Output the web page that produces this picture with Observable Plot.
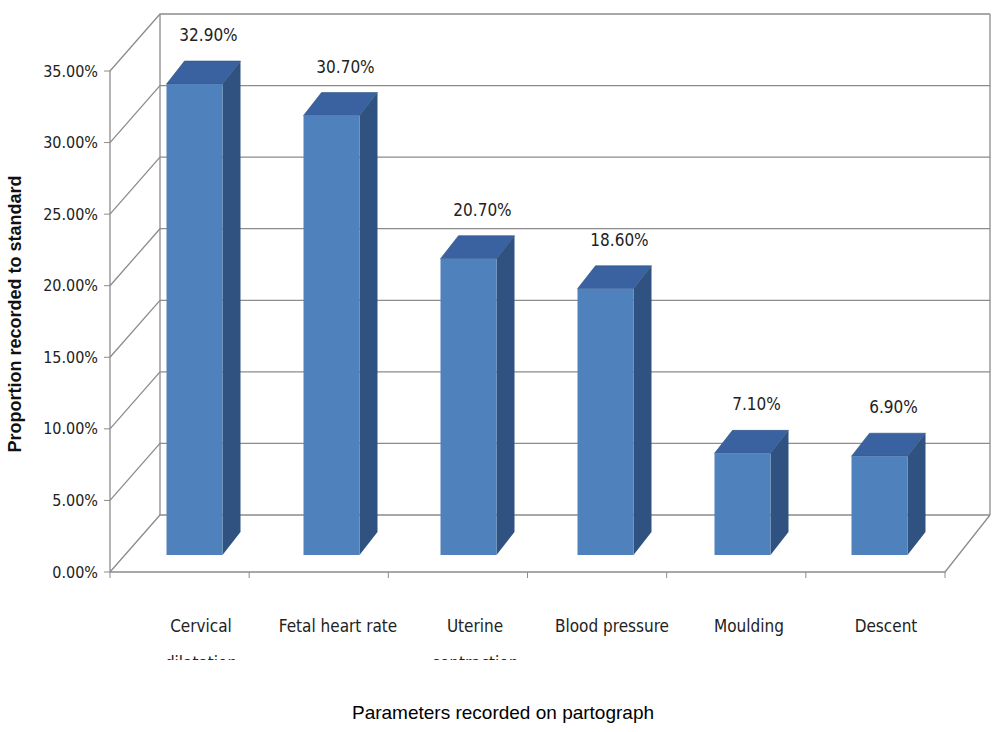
<!DOCTYPE html>
<html><head><meta charset="utf-8">
<script src="https://cdn.jsdelivr.net/npm/d3@7"></script>
<script src="https://cdn.jsdelivr.net/npm/@observablehq/plot@0.6"></script>
<style>body{margin:0;background:#fff}#t{font:19px "Liberation Sans",Arial,sans-serif;text-align:center;width:1006px;margin-top:42px}</style>
</head><body><div id="c"></div><div id="t">Parameters recorded on partograph</div>
<script>
const categories=["Cervical\ndilatation","Fetal heart rate","Uterine\ncontraction","Blood pressure","Moulding","Descent"];
const values=[32.9,30.7,20.7,18.6,7.1,6.9];
const labels=["32.90%","30.70%","20.70%","18.60%","7.10%","6.90%"];
const yTicks=[0,5,10,15,20,25,30,35];
const data=categories.map((c,i)=>({c,v:values[i],l:labels[i]}));
const font='"DejaVu Sans Condensed","Liberation Sans Narrow","Arial Narrow",sans-serif';
function scene(index,scales){
  const x=scales.x,y=scales.y;const bw=x.bandwidth?x.bandwidth():139.7;
  const g=d3.create("svg:g");const L=110,DX=50,DY=-57,R=990,FR=945;
  const gc="#8c8c8c";
  yTicks.forEach(t=>{
    g.append("path").attr("d",`M${L},${y(t)}L${L+DX},${y(t)+DY}L${R},${y(t)+DY}`).attr("fill","none").attr("stroke",gc).attr("stroke-width",1.3);
    g.append("line").attr("x1",L-6).attr("x2",L).attr("y1",y(t)).attr("y2",y(t)).attr("stroke",gc);
    g.append("text").attr("x",L-12).attr("y",y(t)).attr("dy","0.35em").attr("text-anchor","end").attr("font-family",font).attr("font-size",16).attr("fill","#222").text(t.toFixed(2)+"%");
  });
  g.append("line").attr("x1",L+DX).attr("x2",L+DX).attr("y1",y(0)+DY).attr("y2",y(35)+DY).attr("stroke",gc).attr("stroke-width",1.3);
  g.append("line").attr("x1",R).attr("x2",R).attr("y1",y(0)+DY).attr("y2",y(35)+DY).attr("stroke",gc).attr("stroke-width",1.3);
  g.append("line").attr("x1",L).attr("x2",L).attr("y1",y(0)).attr("y2",y(35)).attr("stroke",gc).attr("stroke-width",1.3);
  g.append("path").attr("d",`M${L},${y(0)}L${FR},${y(0)}L${R},${y(0)+DY}`).attr("fill","none").attr("stroke",gc).attr("stroke-width",1.3);
  for(let i=0;i<=6;i++){const xx=L+i*(FR-L)/6;g.append("line").attr("x1",xx).attr("x2",xx).attr("y1",y(0)).attr("y2",y(0)+6).attr("stroke",gc);}
  data.forEach(d=>{
    const cx=x(d.c)+bw/2,w=56,x0=cx-w/2,x1=cx+w/2,b=y(0)-17,t=y(d.v)-17,sx=18,sy=-23;
    g.append("path").attr("d",`M${x1},${b}L${x1+sx},${b+sy}L${x1+sx},${t+sy}L${x1},${t}Z`).attr("fill","#2f5280");
    g.append("path").attr("d",`M${x0},${t}L${x0+sx},${t+sy}L${x1+sx},${t+sy}L${x1},${t}Z`).attr("fill","#3a62a0").attr("stroke","#2f5280").attr("stroke-width",0.6);
    g.append("rect").attr("x",x0).attr("y",t).attr("width",w).attr("height",b-t).attr("fill","#4f81bd");
    g.append("text").attr("x",cx+14).attr("y",t+sy-20).attr("text-anchor","middle").attr("font-family",font).attr("font-size",17).attr("fill","#222").text(d.l);
  });
  return g.node();
}
const chart=Plot.plot({width:1006,height:660,marginTop:71,marginBottom:88,marginLeft:110,marginRight:16,
  x:{type:"band",domain:categories,range:[118,956],axis:null},
  y:{domain:[0,35],axis:null},
  style:{background:"#fff"},
  marks:[
    scene,
    Plot.text(data,{x:"c",y:0,text:"c",dx:6,dy:33,lineAnchor:"top",fontSize:17,fontFamily:font,fill:"#222",lineHeight:2.2}),
    Plot.text(["Proportion recorded to standard"],{x:()=>categories[0],y:()=>17.5,text:d=>d,dx:-180,dy:-8,rotate:-90,fontWeight:"bold",fontSize:18,fontFamily:'"Liberation Sans",Arial,sans-serif',fill:"#111"})
  ]});
document.getElementById("c").append(chart);
</script></body></html>
